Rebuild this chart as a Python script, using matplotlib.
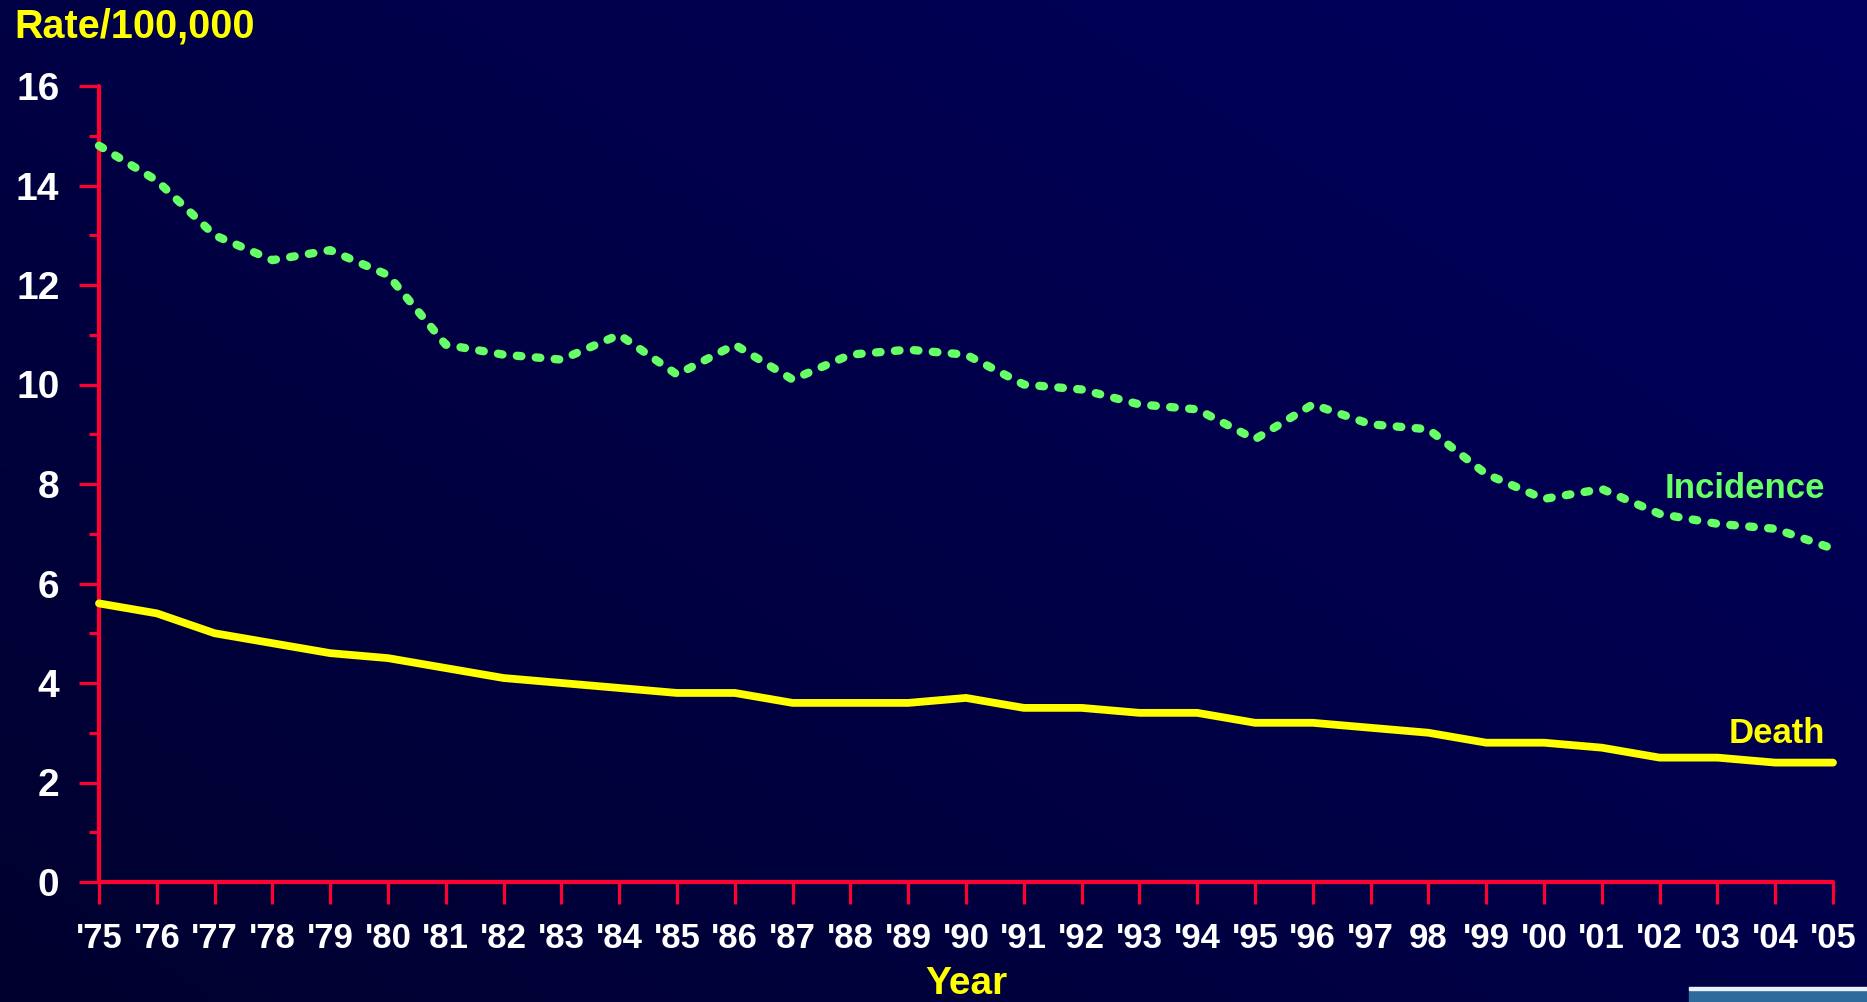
import numpy as np
import matplotlib
matplotlib.use("Agg")
import matplotlib.pyplot as plt
from matplotlib.patches import Rectangle

plt.rcParams['font.family'] = ['Liberation Sans', 'DejaVu Sans']
plt.rcParams['font.weight'] = 'bold'

# data
years = ["'75", "'76", "'77", "'78", "'79", "'80", "'81", "'82", "'83", "'84",
         "'85", "'86", "'87", "'88", "'89", "'90", "'91", "'92", "'93", "'94",
         "'95", "'96", "'97", "98", "'99", "'00", "'01", "'02", "'03", "'04", "'05"]
incidence = [14.8, 14.1, 13.0, 12.5, 12.7, 12.2, 10.8, 10.6, 10.5, 11.0,
             10.2, 10.8, 10.1, 10.6, 10.7, 10.6, 10.0, 9.9, 9.6, 9.5,
             8.9, 9.6, 9.2, 9.1, 8.2, 7.7, 7.9, 7.4, 7.2, 7.1, 6.7]
death = [5.6, 5.4, 5.0, 4.8, 4.6, 4.5, 4.3, 4.1, 4.0, 3.9,
         3.8, 3.8, 3.6, 3.6, 3.6, 3.7, 3.5, 3.5, 3.4, 3.4,
         3.2, 3.2, 3.1, 3.0, 2.8, 2.8, 2.7, 2.5, 2.5, 2.4, 2.4]

W, H = 1867, 1002
red = '#ff0033'
green = '#66ff66'
yellow = '#ffff00'

fig = plt.figure(figsize=(W / 100, H / 100), dpi=100)

# background gradient, dark bottom-left to lighter top-right
bg = fig.add_axes([0, 0, 1, 1], zorder=-10)
gx, gy = np.meshgrid(np.linspace(0, 1, 200), np.linspace(1, 0, 120))
t = 0.55 * gx + 0.45 * gy
c0 = np.array([0x00, 0x00, 0x2e]) / 255
c1 = np.array([0x00, 0x00, 0x60]) / 255
img = c0[None, None, :] + (c1 - c0)[None, None, :] * t[:, :, None]
bg.imshow(img, aspect='auto', extent=[0, 1, 0, 1], interpolation='bilinear')
bg.axis('off')

ax = fig.add_axes([99 / W, 1 - 882 / H, (1833 - 99) / W, (882 - 86) / H])
ax.patch.set_alpha(0)
x = np.arange(len(years))

ax.plot(x, incidence, color=green, lw=6, linestyle=(0, (0.55, 1.73)),
        dash_capstyle='round', clip_on=False, zorder=3)
ax.plot(x, death, color=yellow, lw=5.6, solid_capstyle='round',
        solid_joinstyle='miter', clip_on=False, zorder=3)

ax.set_xlim(0, 30)
ax.set_ylim(0, 16)
for s in ['top', 'right']:
    ax.spines[s].set_visible(False)
for s in ['left', 'bottom']:
    ax.spines[s].set_color(red)
    ax.spines[s].set_linewidth(3)
    ax.spines[s].set_capstyle('round')

ax.set_xticks(x)
ax.set_xticklabels(years)
ax.set_yticks(range(0, 17, 2))
ax.set_yticks(range(1, 17, 2), minor=True)
ax.tick_params(axis='x', colors=red, length=16, width=2.3, direction='out',
               labelcolor='white', labelsize=25, pad=13)
ax.tick_params(axis='y', which='major', colors=red, length=14.5, width=2.3,
               labelcolor='white', labelsize=28, pad=14)
ax.tick_params(axis='y', which='minor', colors=red, length=7.5, width=2.3)

ax.text(29.86, 7.72, 'Incidence', color=green, fontsize=25, fontweight='bold',
        ha='right', va='baseline')
ax.text(29.86, 2.79, 'Death', color=yellow, fontsize=25, fontweight='bold',
        ha='right', va='baseline')

fig.text(14 / W, 1 - 37 / H, 'Rate/100,000', color=yellow, fontsize=28.5,
         fontweight='bold', ha='left', va='baseline')
fig.text(966 / W, 0, 'Year', color=yellow, fontsize=28,
         fontweight='bold', ha='center', va='bottom')

# corner of a logo peeking in at bottom right
fig.patches.append(Rectangle((1689 / W, 0), (W - 1689) / W, 12 / H,
                             transform=fig.transFigure, color='#2f6a9c'))
fig.patches.append(Rectangle((1689 / W, 12 / H), (W - 1689) / W, 3 / H,
                             transform=fig.transFigure, color='#e8f0f8'))

fig.savefig('out.png', dpi=100)
